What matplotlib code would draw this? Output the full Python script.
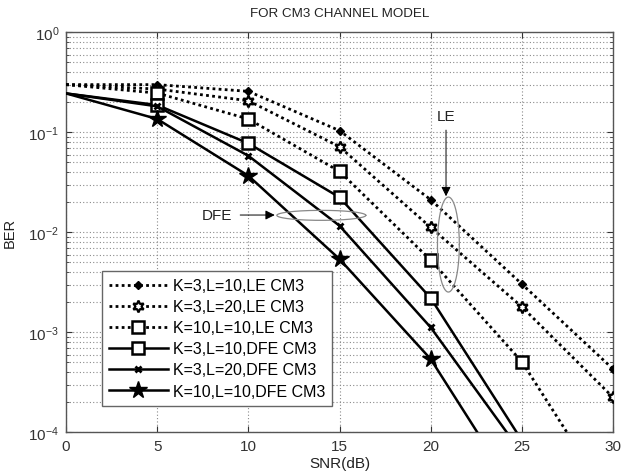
import numpy as np
import matplotlib
matplotlib.use("Agg")
import matplotlib.pyplot as plt
from matplotlib.ticker import LogLocator, NullFormatter

plt.rcParams['font.family'] = ['Liberation Sans', 'DejaVu Sans']
plt.rcParams['mathtext.fontset'] = 'custom'
plt.rcParams['mathtext.rm'] = 'Liberation Sans'
plt.rcParams['mathtext.it'] = 'Liberation Sans'

# BER curves for the CM3 channel model
snr_le = [0, 5, 10, 15, 20, 25, 30]
ber_le_k3_l10 = [0.30, 0.30, 0.257, 0.104, 0.0212, 0.00304, 0.00043]
ber_le_k3_l20 = [0.30, 0.271, 0.207, 0.0718, 0.0112, 0.0018, 0.000224]
ber_le_k10_l10 = [0.30, 0.247, 0.136, 0.0407, 0.00528, 0.000508, 1.9e-5]

snr_dfe = [0, 5, 10, 15, 20, 25]
ber_dfe_k3_l10 = [0.245, 0.1875, 0.0776, 0.0224, 0.0022, 8.3e-5]
ber_dfe_k3_l20 = [0.245, 0.182, 0.0583, 0.01164, 0.00112, 6.2e-5]
ber_dfe_k10_l10 = [0.245, 0.136, 0.0368, 0.0054, 0.00054, 2.0e-5]

labels = ["K=3,L=10,LE CM3", "K=3,L=20,LE CM3", "K=10,L=10,LE CM3",
          "K=3,L=10,DFE CM3", "K=3,L=20,DFE CM3", "K=10,L=10,DFE CM3"]

fig = plt.figure(figsize=(6.23, 4.77), dpi=100)
ax = fig.add_axes([0.106, 0.0915, 0.878, 0.8386])

dot = (0, (1, 1.2))
every = slice(1, None)  # no marker on the SNR = 0 point
ax.semilogy(snr_le, ber_le_k3_l10, color='k', ls=dot, lw=2.0, marker='D',
            ms=4.5, mfc='k', mec='k', markevery=every, label=labels[0], zorder=3)
ax.semilogy(snr_le, ber_le_k3_l20, color='k', ls=dot, lw=2.0, marker=(6, 1, 0),
            ms=8.5, mfc='white', mec='k', mew=1.6, markevery=every,
            label=labels[1], zorder=3)
ax.semilogy(snr_le, ber_le_k10_l10, color='k', ls=dot, lw=2.0, marker='s',
            ms=8, mfc='white', mec='k', mew=1.8, markevery=every,
            label=labels[2], zorder=3)
ax.semilogy(snr_dfe, ber_dfe_k3_l10, color='k', ls='-', lw=1.8, marker='s',
            ms=8, mfc='white', mec='k', mew=1.8, markevery=every,
            label=labels[3], zorder=3)
ax.semilogy(snr_dfe, ber_dfe_k3_l20, color='k', ls='-', lw=1.8, marker='x',
            ms=4, mec='k', mew=2.0, markevery=every, label=labels[4], zorder=3)
ax.semilogy(snr_dfe, ber_dfe_k10_l10, color='k', ls='-', lw=1.8, marker='*',
            ms=13, mfc='k', mec='k', markevery=every, label=labels[5], zorder=3)

ax.set_xlim(0, 30)
ax.set_ylim(1e-4, 1e0)
ax.set_xticks([0, 5, 10, 15, 20, 25, 30])
ax.yaxis.set_major_locator(LogLocator(base=10, numticks=10))
ax.yaxis.set_minor_locator(LogLocator(base=10, subs=np.arange(2, 10), numticks=50))
ax.yaxis.set_minor_formatter(NullFormatter())

ax.grid(True, which='major', axis='both', color='#8a8a8a', ls=(0, (1, 2)), lw=0.8)
ax.grid(True, which='minor', axis='y', color='#8a8a8a', ls=(0, (1, 2)), lw=0.8)
ax.set_axisbelow(True)

ax.tick_params(which='both', direction='in', top=True, right=True,
               labelsize=11, colors='#333333')
ax.tick_params(which='major', length=4, pad=5)
ax.tick_params(which='minor', length=2)
for s in ax.spines.values():
    s.set_color('#555555')
    s.set_linewidth(1.0)

ax.set_title("FOR CM3 CHANNEL MODEL", fontsize=9.6, color='#222222', pad=12)
ax.set_xlabel("SNR(dB)", fontsize=11, color='#222222', labelpad=2)
ax.set_ylabel("BER", fontsize=10.5, color='#222222', labelpad=8)

leg = ax.legend(loc='lower left', bbox_to_anchor=(0.065, 0.0665), fontsize=11.5,
                handlelength=3.7, handletextpad=0.3, labelspacing=0.38,
                borderpad=0.45, borderaxespad=0, fancybox=False, framealpha=1,
                edgecolor='#666666')
leg.get_frame().set_linewidth(1.0)

# DFE annotation: label, arrow and grouping ellipse
ax.text(8.27, 0.0149, "DFE", fontsize=11, ha='center', va='center', color='#222222')
ax.annotate('', xy=(11.6, 0.0149), xytext=(9.4, 0.0149),
            arrowprops=dict(arrowstyle='-|>', color='k', lw=0.7, mutation_scale=14))
t = np.linspace(0, 2 * np.pi, 200)
ax.plot(14.0 + 2.44 * np.cos(t), 10 ** (-1.83 + 0.05 * np.sin(t)),
        color='#888888', lw=0.9, zorder=4)

# LE annotation: label, arrow and grouping ellipse
ax.text(20.84, 0.1466, "LE", fontsize=11, ha='center', va='center', color='#222222')
ax.annotate('', xy=(20.84, 10 ** -1.667), xytext=(20.84, 10 ** -0.95),
            arrowprops=dict(arrowstyle='-|>', color='k', lw=0.7, mutation_scale=14))
ax.plot(20.97 + 0.6 * np.cos(t), 10 ** (-2.122 + 0.475 * np.sin(t)),
        color='#888888', lw=0.9, zorder=4)

fig.savefig("out.png", dpi=100)
